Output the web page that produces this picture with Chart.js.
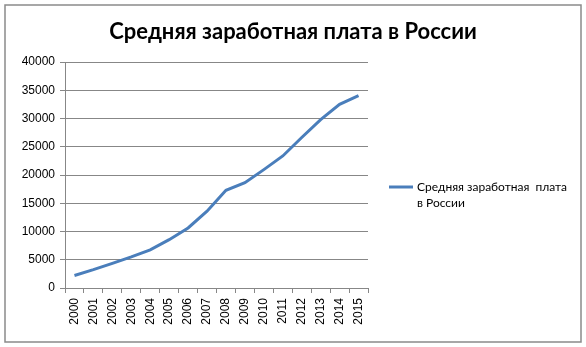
<!DOCTYPE html>
<html>
<head>
<meta charset="utf-8">
<script src="https://cdn.jsdelivr.net/npm/chart.js@4"></script>
<style>
  html, body { margin: 0; padding: 0; background: #fff; }
  canvas { display: block; }
</style>
</head>
<body>
<canvas id="salaryChart" width="586" height="347"></canvas>
<script>
// data
const years = ["2000", "2001", "2002", "2003", "2004", "2005", "2006", "2007",
  "2008", "2009", "2010", "2011", "2012", "2013", "2014", "2015"];
const salary = [2223, 3240, 4360, 5499, 6740, 8555, 10634, 13593,
  17290, 18638, 20952, 23369, 26629, 29792, 32495, 34030];
const seriesName = "Средняя заработная плата в России";
const legendLines = ["Средняя заработная  плата", "в России"];
const yMax = 40000;
const yStep = 5000;

const lineColor = "#4a7ebb";
const gridColor = "#878787";

// frame around the whole chart + centred title
const framePlugin = {
  id: "frame",
  beforeDraw(chart) {
    const ctx = chart.ctx;
    ctx.save();
    ctx.fillStyle = "#fff";
    ctx.fillRect(0, 0, chart.width, chart.height);
    ctx.strokeStyle = "#8a8a8a";
    ctx.lineWidth = 1.5;
    ctx.strokeRect(5, 5, 576, 337);
    ctx.fillStyle = "#000";
    ctx.font = "bold 22px Lato";
    ctx.textAlign = "center";
    ctx.textBaseline = "middle";
    ctx.fillText(seriesName, chart.width / 2, 32);
    ctx.restore();
  },
};

// legend on the right, wrapped in two lines
const sideLegend = {
  id: "sideLegend",
  afterDraw(chart) {
    const ctx = chart.ctx;
    const x0 = chart.chartArea.right + 21;
    const y0 = 187;
    ctx.save();
    ctx.strokeStyle = lineColor;
    ctx.lineWidth = 3;
    ctx.beginPath();
    ctx.moveTo(x0, y0);
    ctx.lineTo(x0 + 24, y0);
    ctx.stroke();
    ctx.fillStyle = "#000";
    ctx.font = "12px Lato";
    ctx.textBaseline = "middle";
    legendLines.forEach((t, i) => ctx.fillText(t, x0 + 28, y0 + i * 16));
    ctx.restore();
  },
};

new Chart(document.getElementById("salaryChart"), {
  type: "line",
  data: {
    labels: years,
    datasets: [
      {
        label: seriesName,
        data: salary,
        borderColor: lineColor,
        backgroundColor: lineColor,
        borderWidth: 3,
        pointRadius: 0,
        tension: 0,
      },
    ],
  },
  options: {
    responsive: false,
    animation: false,
    layout: { padding: { top: 62, left: 0, right: 218, bottom: 5 } },
    plugins: {
      legend: { display: false },
      tooltip: { enabled: false },
      title: { display: false },
    },
    scales: {
      x: {
        offset: true,
        grid: {
          offset: true,
          drawOnChartArea: false,
          drawTicks: true,
          tickLength: 5,
          color: gridColor,
        },
        border: { color: gridColor },
        ticks: {
          autoSkip: false,
          minRotation: 90,
          maxRotation: 90,
          padding: 5,
          color: "#000",
          font: { family: "Liberation Sans", size: 12 },
        },
        afterFit(scale) {
          scale.height = 54;
        },
      },
      y: {
        min: 0,
        max: yMax,
        ticks: {
          stepSize: yStep,
          padding: 5,
          color: "#000",
          font: { family: "Liberation Sans", size: 12 },
          callback: (v) => String(v),
        },
        grid: { color: gridColor, tickLength: 5 },
        border: { color: gridColor },
        afterFit(scale) {
          scale.width = 65;
        },
      },
    },
  },
  plugins: [framePlugin, sideLegend],
});
</script>
</body>
</html>
